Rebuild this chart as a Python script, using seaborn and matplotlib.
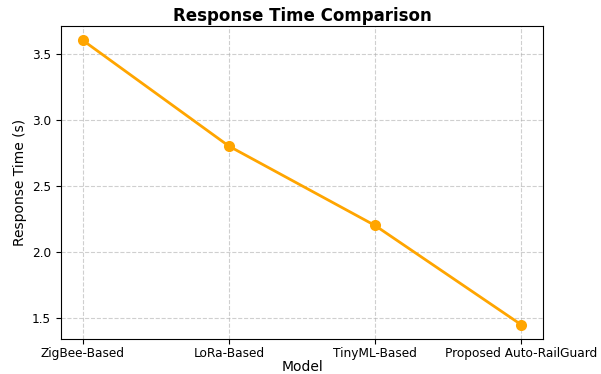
import matplotlib
matplotlib.use("Agg")
import matplotlib.pyplot as plt
import seaborn as sns
import pandas as pd

models = ["ZigBee-Based", "LoRa-Based", "TinyML-Based", "Proposed Auto-RailGuard"]
response_time = [3.6, 2.8, 2.2, 1.45]

df = pd.DataFrame({"Model": models, "Response Time (s)": response_time})

sns.set_style("ticks", {"text.color": "black", "axes.labelcolor": "black",
                        "xtick.color": "black", "ytick.color": "black",
                        "axes.edgecolor": "black"})
plt.rcParams["font.family"] = ["DejaVu Sans"]

fig, ax = plt.subplots(figsize=(6.01, 3.74), dpi=100)
sns.lineplot(data=df, x="Model", y="Response Time (s)", marker="o", color="orange",
             linewidth=2, markersize=8, markeredgewidth=0, ax=ax, sort=False)

ax.set_title("Response Time Comparison", fontsize=12, fontweight="bold", pad=4)
ax.set_xlabel("Model", fontsize=10, labelpad=0)
ax.set_ylabel("Response Time (s)", fontsize=10)
ax.tick_params(labelsize=8.7, length=3.5)
ax.tick_params(axis="x", pad=2.5)
ax.grid(True, linestyle="--", color="#b0b0b0", alpha=0.6, linewidth=0.8)
for s in ax.spines.values():
    s.set_visible(True)

fig.subplots_adjust(left=0.1015, right=0.9035, top=0.930, bottom=0.094)
fig.savefig("out.png")
